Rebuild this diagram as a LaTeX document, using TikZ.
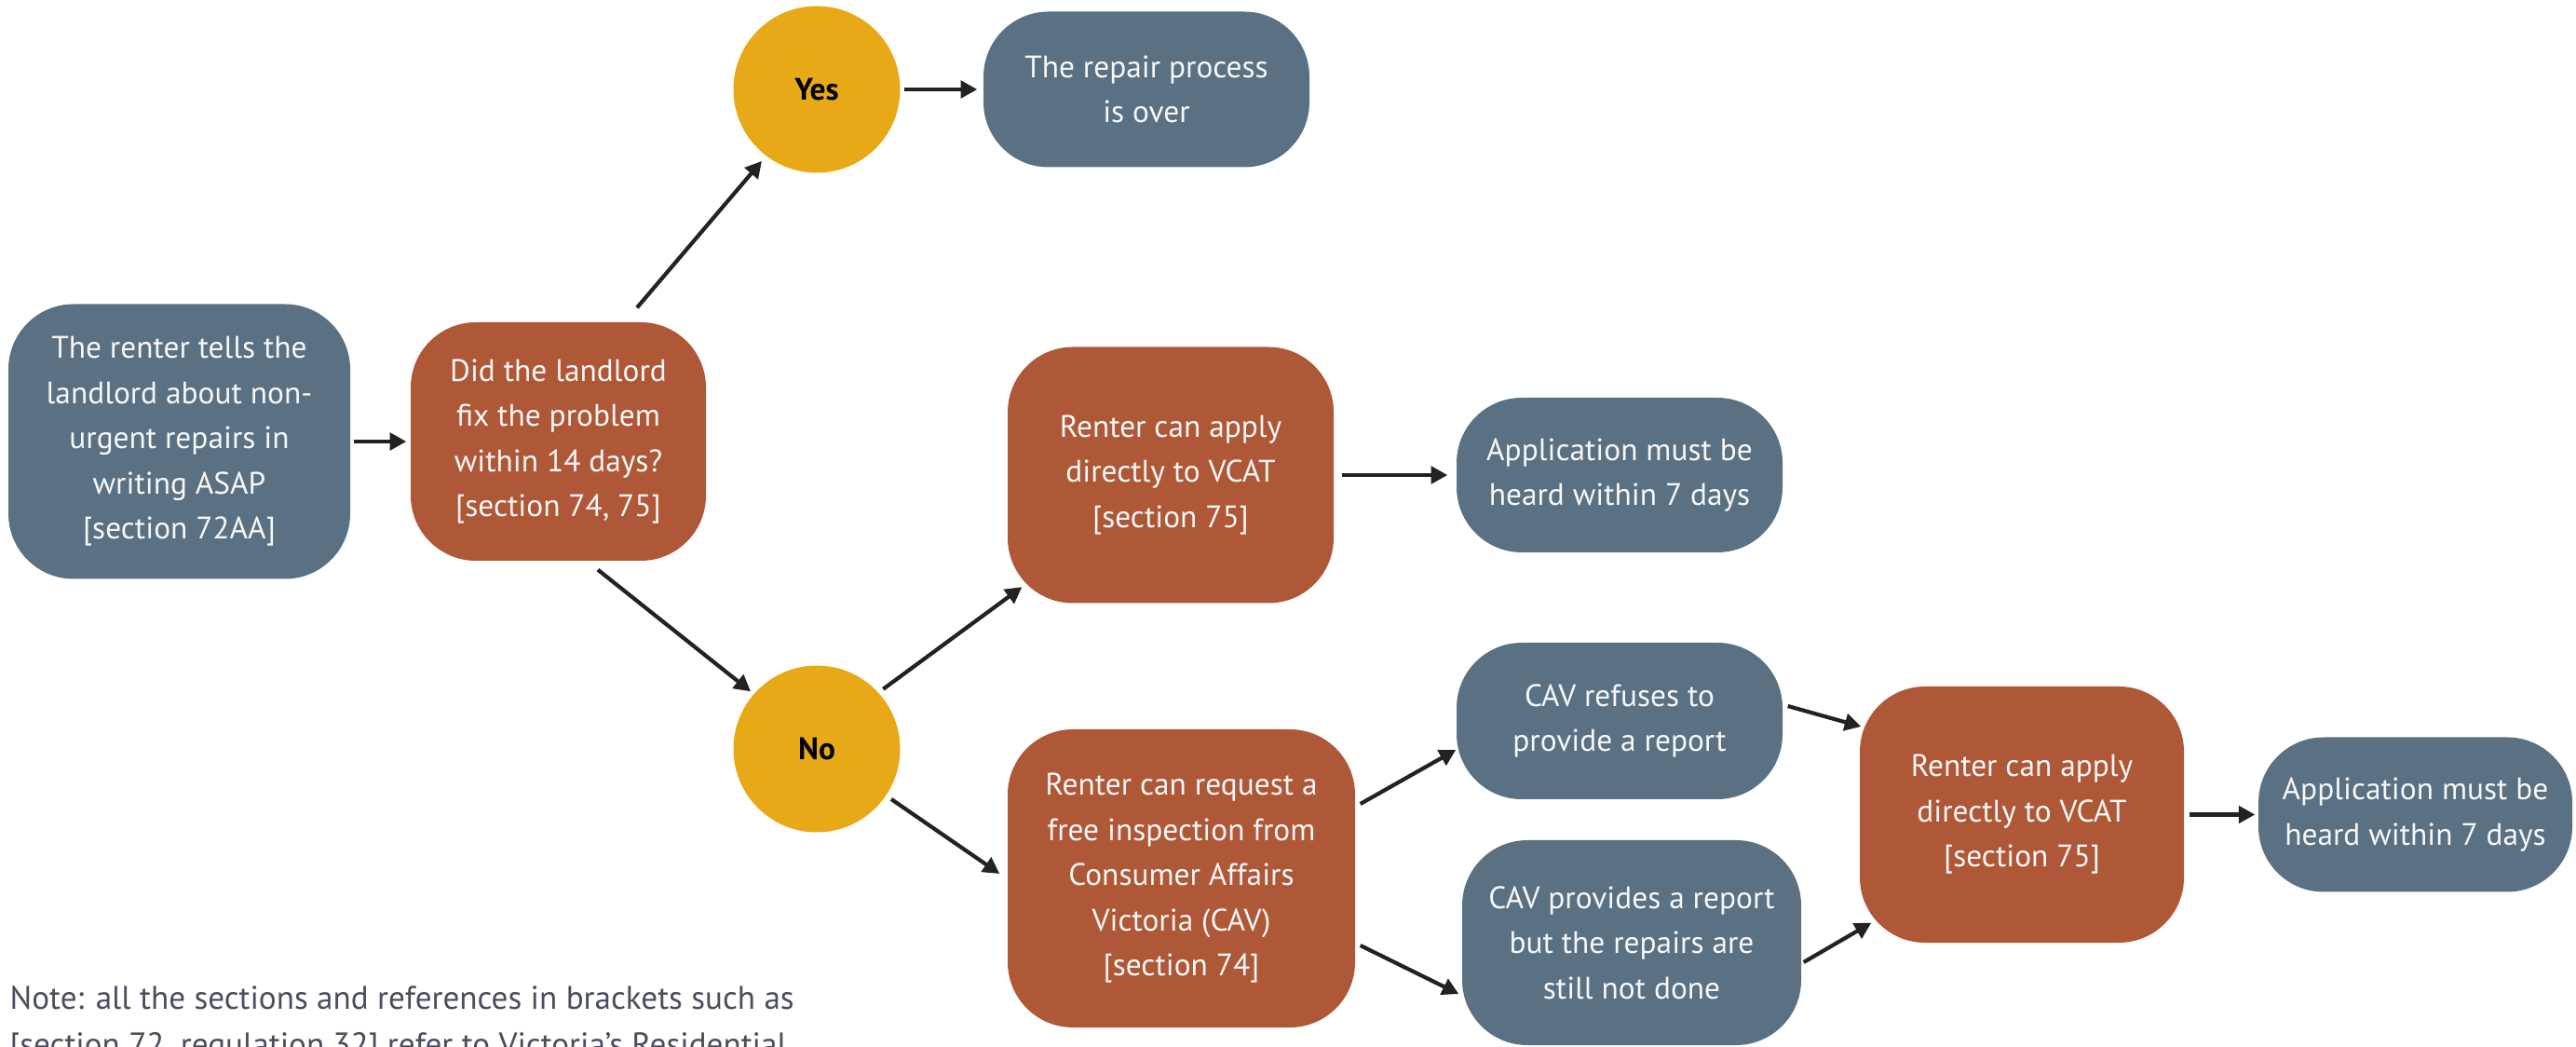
\documentclass[tikz,border=0pt]{standalone}
\usepackage{fontspec}
\setmainfont{PT Sans}
\usetikzlibrary{arrows.meta,calc}
\definecolor{slate}{HTML}{5A7183}
\definecolor{rust}{HTML}{AE5838}
\definecolor{gold}{HTML}{E8A918}
\definecolor{arrowc}{HTML}{222222}
\definecolor{notec}{HTML}{4A4D5E}
\definecolor{boxtext}{HTML}{F7F7F7}
\tikzset{
  box/.style={rounded corners=0.7cm, text=boxtext, align=center, inner sep=0pt,
    font=\fontsize{9.5}{13.8}\selectfont},
  slatebox/.style={box, fill=slate},
  rustbox/.style={box, fill=rust},
  answer/.style={circle, fill=gold, minimum size=1.79cm, inner sep=0pt,
    font=\fontsize{9.5}{12}\selectfont\bfseries, text=black},
  arr/.style={draw=arrowc, line width=1.2pt, -{Triangle[length=5pt,width=5.2pt]}},
}
\begin{document}
\begin{tikzpicture}
\useasboundingbox (0,0) rectangle (27.66,11.23);
\clip (0,0) rectangle (27.66,11.23);

\node[slatebox, minimum width=3.67cm, minimum height=2.95cm] (A) at (1.925,6.49)
  {The renter tells the\\landlord about non-\\urgent repairs in\\writing ASAP\\{[}section 72AA{]}};
\node[rustbox, minimum width=3.17cm, minimum height=2.56cm] (B) at (5.995,6.49)
  {Did the landlord\\fix the problem\\within 14 days?\\{[}section 74, 75{]}};
\node[answer] (Yes) at (8.77,10.27) {Yes};
\node[slatebox, minimum width=3.50cm, minimum height=1.67cm] (Repair) at (12.31,10.27)
  {The repair process\\is over};
\node[answer] (No) at (8.77,3.19) {No};
\node[rustbox, minimum width=3.50cm, minimum height=2.75cm] (VCAT1) at (12.57,6.13)
  {Renter can apply\\directly to VCAT\\{[}section 75{]}};
\node[slatebox, minimum width=3.50cm, minimum height=1.66cm] (App1) at (17.39,6.13)
  {Application must be\\heard within 7 days};
\node[rustbox, minimum width=3.73cm, minimum height=3.20cm] (CAVreq) at (12.685,1.80)
  {Renter can request a\\free inspection from\\Consumer Affairs\\Victoria (CAV)\\{[}section 74{]}};
\node[slatebox, minimum width=3.50cm, minimum height=1.68cm] (Refuses) at (17.39,3.49)
  {CAV refuses to\\provide a report};
\node[slatebox, minimum width=3.64cm, minimum height=2.20cm] (Provides) at (17.52,1.11)
  {CAV provides a report\\but the repairs are\\still not done};
\node[rustbox, minimum width=3.48cm, minimum height=2.75cm] (VCAT2) at (21.71,2.485)
  {Renter can apply\\directly to VCAT\\{[}section 75{]}};
\node[slatebox, minimum width=3.37cm, minimum height=1.66cm] (App2) at (25.935,2.485)
  {Application must be\\heard within 7 days};

\node[anchor=base west, align=left, text=notec, inner sep=0pt,
  font=\fontsize{10}{14.2}\selectfont] (Note) at (0.10,-0.10)
  {Note: all the sections and references in brackets such as\\{[}section 72, regulation 32{]} refer to Victoria’s Residential};

\draw[arr, shorten <=0.03cm, shorten >=0.04cm] (A.east) -- (B.west);
\draw[arr] ($(B.north)+(0.845,0.15)$) -- ($(Yes)+(232.5:0.97)$);
\draw[arr, shorten <=0.04cm, shorten >=0.06cm] (Yes.east) -- (Repair.west);
\draw[arr] ($(B.south)+(0.425,-0.09)$) -- ($(No)+(139:0.94)$);
\draw[arr] ($(No)+(42:0.96)$) -- ($(VCAT1.south west)+(0.16,0.18)$);
\draw[arr, shorten <=0.08cm, shorten >=0.09cm] (VCAT1.east) -- (App1.west);
\draw[arr] ($(No)+(-34:0.965)$) -- ($(CAVreq.west)+(-0.08,0.05)$);
\draw[arr] ($(CAVreq.east)+(0.05,0.80)$) -- ($(Refuses.west)+(0,-0.31)$);
\draw[arr] ($(CAVreq.east)+(0.05,-0.72)$) -- ($(Provides.west)+(-0.03,-0.55)$);
\draw[arr] ($(Refuses.east)+(0.05,0.16)$) -- ($(VCAT2.west)+(0.02,0.945)$);
\draw[arr] ($(Provides.east)+(0.02,-0.21)$) -- ($(VCAT2.south west)+(0.13,0.22)$);
\draw[arr, shorten <=0.05cm, shorten >=0.03cm] (VCAT2.east) -- (App2.west);
\end{tikzpicture}
\end{document}
